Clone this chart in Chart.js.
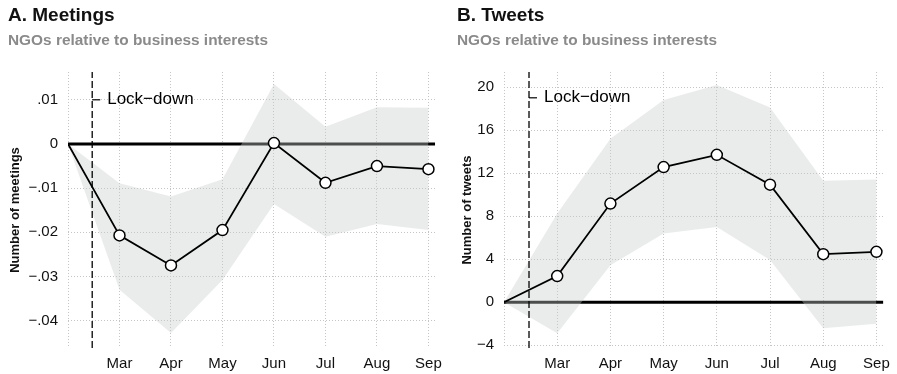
<!DOCTYPE html>
<html>
<head>
<meta charset="utf-8">
<script src="https://cdn.jsdelivr.net/npm/chart.js@4.4.0/dist/chart.umd.min.js"></script>
<style>
body { margin: 0; background: #fff; }
#wrap { position: relative; width: 897px; height: 374px; }
#wrap canvas { position: absolute; top: 0; }
</style>
</head>
<body>
<div id="wrap">
  <canvas id="chartA" width="449" height="374" style="left:0px"></canvas>
  <canvas id="chartB" width="448" height="374" style="left:449px"></canvas>
</div>
<script>
// months since February; Feb itself has no label
var months = ['Feb', 'Mar', 'Apr', 'May', 'Jun', 'Jul', 'Aug', 'Sep'];
var xTickLabels = ['', 'Mar', 'Apr', 'May', 'Jun', 'Jul', 'Aug', 'Sep'];
var lockdownAt = 0.47;

// A. meetings: estimate with confidence band
var meetings   = [0, -0.0207, -0.0275, -0.0195, 0.0002, -0.0088, -0.0050, -0.0057];
var meetingsHi = [0, -0.0089, -0.0119, -0.0080, 0.0136, 0.0039, 0.0083, 0.0082];
var meetingsLo = [0, -0.0330, -0.0428, -0.0308, -0.0136, -0.0210, -0.0181, -0.0195];
var meetingsTicks = [-0.04, -0.03, -0.02, -0.01, 0, 0.01];

// B. tweets
var tweets   = [0, 2.43, 9.17, 12.56, 13.7, 10.93, 4.47, 4.69];
var tweetsHi = [0, 8.24, 15.2, 18.8, 20.2, 18.1, 11.3, 11.4];
var tweetsLo = [0, -2.87, 3.45, 6.39, 7.0, 3.92, -2.41, -2.0];
var tweetsTicks = [-4, 0, 4, 8, 12, 16, 20];

var FONT = "'Liberation Sans', Arial, Helvetica, sans-serif";

function toPoints(vals) {
    var pts = [];
    for (var i = 0; i < vals.length; i++) pts.push({x: i, y: vals[i]});
    return pts;
}

function fmtMeetings(v) {
    if (Math.abs(v) < 1e-9) return '0';
    var s = Math.abs(v).toFixed(2).replace(/^0/, '');
    return (v < 0 ? '\u2212' : '') + s;
}

function fmtTweets(v) {
    return v < 0 ? '\u2212' + Math.abs(v) : String(v);
}

// "|- Lock-down" note next to the dashed line
var lockdownNote = {
    id: 'lockdownNote',
    afterDatasetsDraw: function(chart, args, opts) {
        var ctx = chart.ctx;
        var x = chart.scales.x.getPixelForValue(lockdownAt);
        var y = chart.scales.y.getPixelForValue(opts.y);
        ctx.save();
        ctx.strokeStyle = '#000';
        ctx.lineWidth = 1.2;
        ctx.beginPath();
        ctx.moveTo(x, y);
        ctx.lineTo(x + 8, y);
        ctx.stroke();
        ctx.fillStyle = '#000';
        ctx.font = '17px ' + FONT;
        ctx.textBaseline = 'middle';
        ctx.fillText('Lock\u2212down', x + 15, y);
        ctx.restore();
    }
};

function drawPanel(id, p) {
    var xMax = 7.13;
    var ctx = document.getElementById(id).getContext('2d');
    return new Chart(ctx, {
        type: 'line',
        data: {
            datasets: [
                {   // estimate
                    data: toPoints(p.values),
                    borderColor: '#000',
                    borderWidth: 1.8,
                    pointRadius: function(c) { return c.dataIndex === 0 ? 0 : 5.5; },
                    pointBackgroundColor: '#fff',
                    pointBorderColor: '#000',
                    pointBorderWidth: 1.5,
                    fill: false
                },
                {   // lock-down marker
                    data: [{x: lockdownAt, y: p.yMin}, {x: lockdownAt, y: p.yMax}],
                    borderColor: '#000',
                    borderWidth: 1.3,
                    borderDash: [7, 3],
                    pointRadius: 0,
                    fill: false
                },
                {   // upper bound, filled down to lower bound
                    data: toPoints(p.hi),
                    borderWidth: 0,
                    pointRadius: 0,
                    backgroundColor: 'rgba(200,206,203,0.38)',
                    fill: '+1'
                },
                {
                    data: toPoints(p.lo),
                    borderWidth: 0,
                    pointRadius: 0,
                    fill: false
                },
                {   // zero reference
                    data: [{x: 0, y: 0}, {x: xMax, y: 0}],
                    borderColor: '#000',
                    borderWidth: 3,
                    pointRadius: 0,
                    fill: false
                }
            ]
        },
        options: {
            responsive: false,
            animation: false,
            layout: {padding: {left: 8, right: 12, top: 0, bottom: 0}},
            plugins: {
                legend: {display: false},
                tooltip: {enabled: false},
                title: {
                    display: true, text: p.title, align: 'start', color: '#111',
                    font: {family: FONT, size: 19, weight: 'bold'},
                    padding: {top: 4, bottom: 5}
                },
                subtitle: {
                    display: true, text: 'NGOs relative to business interests', align: 'start',
                    color: '#8a8a8a',
                    font: {family: FONT, size: 15.4, weight: 'bold'},
                    padding: {top: 0, bottom: 21.7}
                },
                lockdownNote: {y: p.noteY}
            },
            scales: {
                x: {
                    type: 'linear', min: 0, max: xMax,
                    afterBuildTicks: function(s) {
                        s.ticks = months.map(function(m, i) { return {value: i}; });
                    },
                    afterFit: function(s) { s.height = 26; },
                    ticks: {
                        padding: 7, color: '#111', font: {family: FONT, size: 15},
                        maxRotation: 0,
                        callback: function(v) { return xTickLabels[v]; }
                    },
                    grid: {color: '#c4c4c4', lineWidth: 1, drawTicks: false},
                    border: {display: false, dash: [1, 2]}
                },
                y: {
                    min: p.yMin, max: p.yMax,
                    afterBuildTicks: function(s) {
                        s.ticks = p.ticks.map(function(v) { return {value: v}; });
                    },
                    afterFit: function(s) { s.width = p.yWidth; },
                    ticks: {
                        padding: 10, color: '#111', font: {family: FONT, size: 15},
                        callback: p.fmt
                    },
                    grid: {color: '#c4c4c4', lineWidth: 1, drawTicks: false},
                    border: {display: false, dash: [1, 2]},
                    title: {
                        display: true, text: p.yTitle, color: '#111',
                        font: {family: FONT, size: 13, weight: 'bold'},
                        padding: {top: p.yTitlePad, bottom: 0}
                    }
                }
            }
        },
        plugins: [lockdownNote]
    });
}

drawPanel('chartA', {
    title: 'A. Meetings', yTitle: 'Number of meetings',
    values: meetings, hi: meetingsHi, lo: meetingsLo, ticks: meetingsTicks,
    yMin: -0.0462, yMax: 0.0163, fmt: fmtMeetings,
    yWidth: 60, yTitlePad: 0, noteY: 0.01
});

drawPanel('chartB', {
    title: 'B. Tweets', yTitle: 'Number of tweets',
    values: tweets, hi: tweetsHi, lo: tweetsLo, ticks: tweetsTicks,
    yMin: -4.25, yMax: 21.4, fmt: fmtTweets,
    yWidth: 47, yTitlePad: 3, noteY: 19.0
});
</script>
</body>
</html>
